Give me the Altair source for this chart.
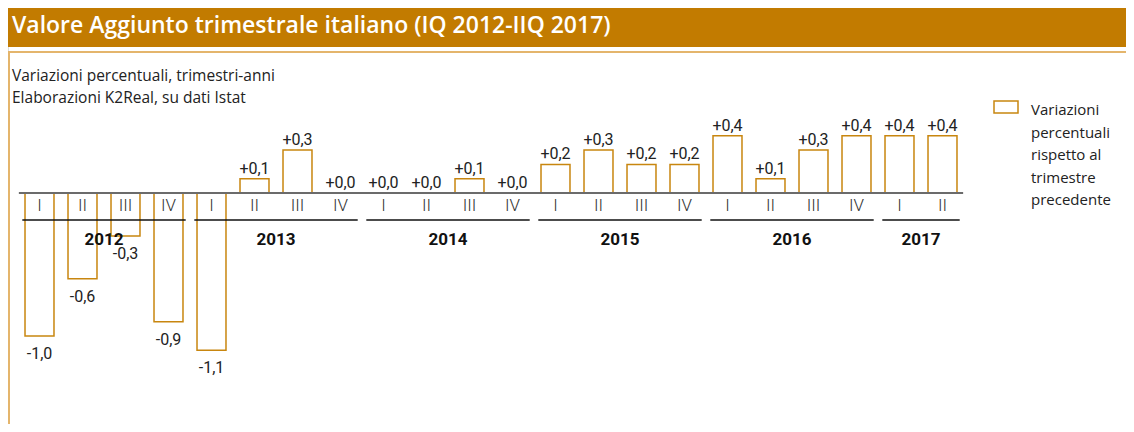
import altair as alt
import pandas as pd

# ---- data ----
years = ["2012"] * 4 + ["2013"] * 4 + ["2014"] * 4 + ["2015"] * 4 + ["2016"] * 4 + ["2017"] * 2
quarters = ["I", "II", "III", "IV"] * 5 + ["I", "II"]
values = [-1.0, -0.6, -0.3, -0.9,
          -1.1, 0.1, 0.3, 0.0,
          0.0, 0.0, 0.1, 0.0,
          0.2, 0.3, 0.2, 0.2,
          0.4, 0.1, 0.3, 0.4,
          0.4, 0.4]

title_text = "Valore Aggiunto trimestrale italiano (IQ 2012-IIQ 2017)"
subtitle_lines = ["Variazioni percentuali, trimestri-anni", "Elaborazioni K2Real, su dati Istat"]
legend_lines = ["Variazioni", "percentuali", "rispetto al", "trimestre", "precedente"]

df = pd.DataFrame({"idx": list(range(len(values))), "year": years,
                   "quarter": quarters, "value": values})
df["label"] = [f"{v:+.1f}".replace(".", ",") for v in values]

# ---- style ----
W, H = 1118, 416
ORANGE = "#C27B00"
BAR = "#C8860F"
LIGHT = "#E4B56C"
ZERO_Y = 185
PX = 143.0
XS = alt.Scale(domain=[-0.5, 21.5], range=[31.5 - 21.5, 31.5 + 43 * 21 + 21.5])
YS = alt.Scale(domain=[-1.6, 1.2], range=[ZERO_Y + PX * 1.6, ZERO_Y - PX * 1.2])

base = alt.Chart(df).transform_calculate(x0="datum.idx - 0.337", x1="datum.idx + 0.337")

bars = base.mark_rect(fill="white", stroke=BAR, strokeWidth=1.5).encode(
    x=alt.X("x0:Q", scale=XS, axis=None),
    x2="x1:Q",
    y=alt.Y("value:Q", scale=YS, axis=None),
    y2=alt.datum(0),
)

zero = alt.Chart(pd.DataFrame({"a": [-0.48], "b": [21.48], "z": [0.0]})).mark_rule(
    color="#6b6b6b", strokeWidth=2
).encode(x=alt.X("a:Q", scale=XS), x2="b:Q", y=alt.Y("z:Q", scale=YS))

qlabels = base.mark_text(font="Roboto", fontSize=17, fontWeight=300, color="#333333",
                         baseline="middle").encode(
    x=alt.X("idx:Q", scale=XS), y=alt.datum(-0.091), text="quarter:N"
)

yr = base.transform_aggregate(lo="min(idx)", hi="max(idx)", groupby=["year"]).transform_calculate(
    a="datum.lo - 0.4", b="datum.hi + 0.4", m="(datum.lo + datum.hi) / 2"
)
yrules = yr.mark_rule(color="#111111", strokeWidth=1.5).encode(
    x=alt.X("a:Q", scale=XS), x2="b:Q", y=alt.datum(-0.189)
)
ylabels = yr.mark_text(font="Roboto", fontSize=17, fontWeight="bold", color="#111111",
                       baseline="middle").encode(
    x=alt.X("m:Q", scale=XS), y=alt.datum(-0.329), text="year:N"
)

pos = base.transform_filter("datum.value >= 0").mark_text(
    font="Roboto", fontSize=16, color="#222222", baseline="alphabetic", dy=-5
).encode(x=alt.X("idx:Q", scale=XS), y=alt.Y("value:Q", scale=YS), text="label:N")
neg = base.transform_filter("datum.value < 0").mark_text(
    font="Roboto", fontSize=16, color="#222222", baseline="top", dy=10
).encode(x=alt.X("idx:Q", scale=XS), y=alt.Y("value:Q", scale=YS), text="label:N")

# ---- decoration: title band, frame, subtitle, legend ----
one = pd.DataFrame({"k": [0]})
band = alt.Chart(one).mark_rect(fill=ORANGE).encode(
    x=alt.value(0), x2=alt.value(W), y=alt.value(0), y2=alt.value(39)
)
frame_h = alt.Chart(one).mark_rule(color=LIGHT, strokeWidth=2).encode(
    x=alt.value(0), x2=alt.value(W), y=alt.value(44)
)
frame_v = alt.Chart(one).mark_rule(color=LIGHT, strokeWidth=2).encode(
    x=alt.value(1), y=alt.value(44), y2=alt.value(H)
)
title = alt.Chart(pd.DataFrame({"t": [title_text]})).mark_text(
    font="Open Sans", fontSize=23, fontWeight=600, color="white", align="left",
    baseline="alphabetic"
).encode(x=alt.value(4), y=alt.value(25), text="t:N")
subtitle = alt.Chart(pd.DataFrame({"t": ["\n".join(subtitle_lines)]})).mark_text(
    font="Open Sans", fontSize=15.5, color="#222222", align="left", baseline="alphabetic",
    lineBreak="\n", lineHeight=22
).encode(x=alt.value(4), y=alt.value(73), text="t:N")
leg_box = alt.Chart(one).mark_rect(fill="white", stroke=BAR, strokeWidth=1.5).encode(
    x=alt.value(986), x2=alt.value(1010), y=alt.value(93), y2=alt.value(105)
)
leg_text = alt.Chart(pd.DataFrame({"t": ["\n".join(legend_lines)]})).mark_text(
    font="Open Sans", fontSize=15, color="#222222", align="left", baseline="alphabetic",
    lineBreak="\n", lineHeight=22.5
).encode(x=alt.value(1023), y=alt.value(107), text="t:N")

chart = alt.layer(
    band, frame_h, frame_v, title, subtitle,
    bars, zero, qlabels, yrules, ylabels, pos, neg,
    leg_box, leg_text,
).properties(
    width=W, height=H, autosize=alt.AutoSizeParams(type="none"), padding=0
).configure_view(strokeWidth=0).configure(background="white")

chart.save("out.html", embed_options={"renderer": "svg", "actions": False})
